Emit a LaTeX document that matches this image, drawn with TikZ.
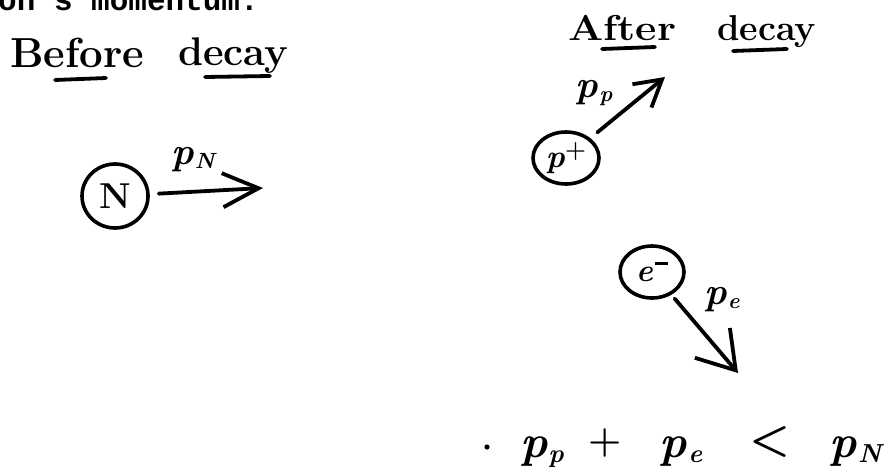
\documentclass[tikz,border=0pt]{standalone}
\usepackage{fontspec}
\newfontfamily\monofont{Liberation Mono}
\usetikzlibrary{arrows.meta,shapes.geometric}
\newcommand\mom[2][22]{\textit{p}\kern1pt\raisebox{-0.1em}{\fontsize{#1}{#1}\selectfont\textit{#2}}}
\begin{document}
\begin{tikzpicture}[x=1pt,y=-1pt,
  ink/.style={line width=3.8pt, line cap=round, line join=round},
  particle/.style={ellipse, draw, line width=3.6pt, inner sep=0pt},
  headword/.style={inner sep=0pt, anchor=base west},
  plabel/.style={inner sep=0pt, font=\bfseries\fontsize{38}{42}\selectfont},
  eqterm/.style={inner sep=0pt, font=\bfseries\fontsize{46}{50}\selectfont}]
\useasboundingbox (0,0) rectangle (885,471);
\clip (0,0) rectangle (885,471);

% cut-off line of text at the top
\node[headword, font=\monofont\bfseries\fontsize{31}{34}\selectfont] (top) at (-2,10) {on's momentum:};

% headings
\node[headword, font=\bfseries\fontsize{42}{46}\selectfont] (before) at (10,67) {Before};
\node[headword, font=\bfseries\fontsize{40}{44}\selectfont] (bdecay) at (178,65) {decay};
\draw[ink] (55,80) -- (106,78);
\draw[ink] (205,77) -- (270,76);

\node[headword, font=\bfseries\fontsize{36}{40}\selectfont, xscale=1.15] (after) at (568,40) {After};
\node[headword, font=\bfseries\fontsize{36}{40}\selectfont] (adecay) at (717,40) {decay};
\draw[ink] (602,49) -- (655,47);
\draw[ink] (733,51) -- (787,49);

% neutron before decay
\node[particle, minimum width=66pt, minimum height=64pt, font=\bfseries\fontsize{36}{40}\selectfont] (N) at (115,196) {N};
\coordinate (Ntip) at (263,188);
\draw[ink, shorten <=9pt, -{Straight Barb[length=36pt,width=34pt]}] (N) -- (Ntip);
\node[plabel] (pN) at (194,160) {\mom{N}};

% proton after decay
\node[particle, minimum width=66pt, minimum height=52pt, font=\bfseries\fontsize{32}{36}\selectfont] (P) at (566,158) {\textit{p}\raisebox{0.3em}{\fontsize{24}{24}\selectfont +}};
\coordinate (Ptip) at (665,77);
\draw[ink, shorten <=9pt, -{Straight Barb[length=26pt,width=30pt]}] (P) -- (Ptip);
\node[plabel] (pP) at (594,93) {\mom{p}};

% electron after decay
\node[particle, minimum width=64pt, minimum height=52pt, font=\bfseries\fontsize{32}{36}\selectfont] (E) at (652,272) {\textit{e}\kern2pt\rule[0.5em]{13pt}{3.2pt}};
\coordinate (Etip) at (738,373);
\draw[ink, shorten <=5pt, -{Straight Barb[length=36pt,width=46pt]}] (E) -- (Etip);
\node[plabel] (pE) at (722,300) {\mom{e}};

% relation
\fill (487,447) circle (2.6pt);
\node[eqterm] (t1) at (542,452) {\mom[26]{p}};
\node[eqterm, font=\bfseries\fontsize{38}{40}\selectfont] (plus) at (605,443) {+};
\node[eqterm] (t2) at (681,452) {\mom[26]{e}};
\node[eqterm] (lt) at (770,442) {<};
\node[eqterm] (t3) at (857,452) {\mom[26]{N}};
\end{tikzpicture}
\end{document}
